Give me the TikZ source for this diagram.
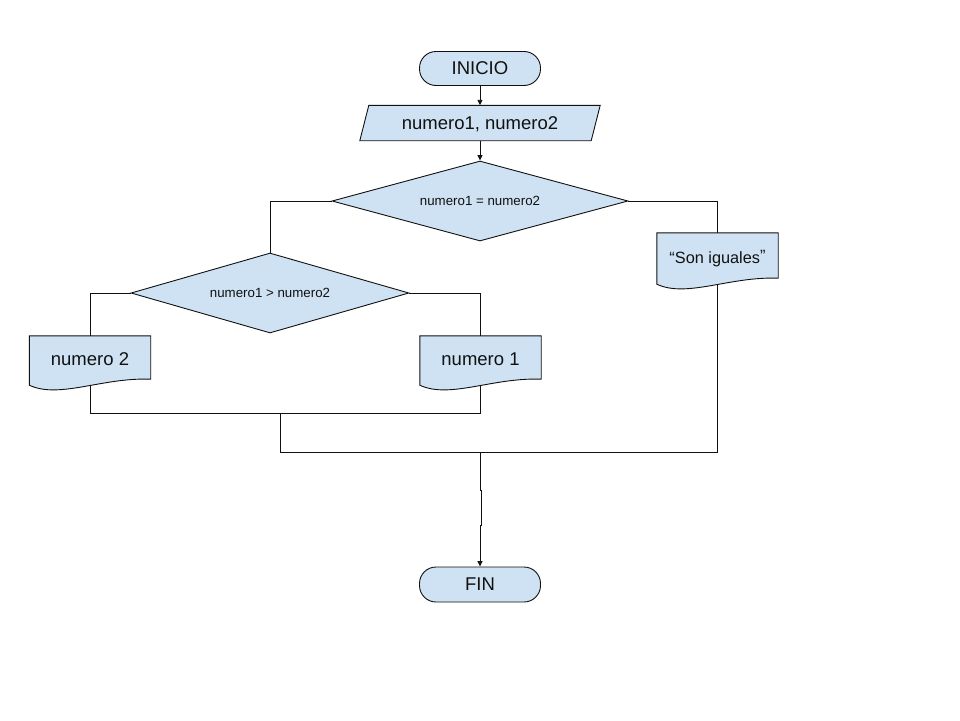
\documentclass[tikz,border=0pt]{standalone}
\usepackage{fontspec}
\setmainfont{Liberation Sans}
\usetikzlibrary{shapes.geometric,arrows.meta,calc,backgrounds}
\definecolor{boxfill}{HTML}{CFE2F3}
\definecolor{ink}{HTML}{111111}

% document symbol: flat top, wavy bottom, drawn behind the node text
\newcommand\docoutline[1]{%
  \begin{pgfonlayer}{background}
    \filldraw[shapebox] (#1.south west)
      .. controls ($(#1.south west)+(30,14)$) and ($(#1.south west)+(73,-8)$)
      .. ($(#1.south east)+(0,-6)$) -- (#1.north east) -- (#1.north west) -- cycle;
  \end{pgfonlayer}}

\begin{document}
\begin{tikzpicture}[x=1pt,y=-1pt,
  shapebox/.style={fill=boxfill,draw=ink,line width=0.9pt},
  bigtext/.style={font=\fontsize{18.5}{22}\selectfont,text=ink},
  terminal/.style={shapebox,bigtext,rectangle,rounded corners=16.5pt,
    minimum width=121pt,minimum height=34pt,inner sep=0pt},
  iobox/.style={bigtext,rectangle,draw=none,minimum width=231pt,
    minimum height=35pt,inner sep=0pt,text height=13.2pt,text depth=0pt},
  decision/.style={shapebox,diamond,aspect=3.7,inner sep=0pt,
    font=\fontsize{13.3}{15}\selectfont,text=ink},
  docbox/.style={rectangle,draw=none,minimum width=121pt,inner sep=0pt},
  conn/.style={draw=ink,line width=0.9pt},
  flow/.style={conn,-{Triangle[width=5pt,length=5.5pt]}}]

\useasboundingbox (0,0) rectangle (960,720);

% start
\node[terminal] (inicio) at (480,68.5) {INICIO};

% data input (parallelogram)
\node[iobox] (datos) at (480,123) {numero1, numero2};
\begin{pgfonlayer}{background}
  \filldraw[shapebox] ($(datos.south west)+(-4.5,0)$) -- ($(datos.north west)+(4.5,0)$)
    -- ($(datos.north east)+(4.5,0)$) -- ($(datos.south east)+(-4.5,0)$) -- cycle;
\end{pgfonlayer}

% decisions
\node[decision,minimum width=296pt,minimum height=80pt] (igual) at (480,201) {numero1 = numero2};
\node[decision,minimum width=278pt,minimum height=80pt] (mayor) at (270,293) {numero1 > numero2};

% outputs
\node[docbox,bigtext,minimum height=49pt] (sal2) at (90,360.5) {\raisebox{3.5pt}{numero 2}};
\docoutline{sal2}
\node[docbox,bigtext,minimum height=49pt] (sal1) at (480.5,360.5) {\raisebox{3.5pt}{numero 1}};
\docoutline{sal1}
\node[docbox,font=\fontsize{16.3}{20}\selectfont,text=ink,minimum height=51pt] (iguales)
  at (717.5,258.5) {\raisebox{3.5pt}{“Son iguales\raisebox{1.5pt}{”}}};
\docoutline{iguales}

% end
\node[terminal,minimum height=35pt] (fin) at (480,584.5) {FIN};

% junction points
\coordinate (j1) at (280,413.5);
\coordinate (j2) at (280,452);
\coordinate (j3) at (480,452);

% connectors
\draw[flow] (inicio) -- (datos);
\draw[flow] (datos) -- (igual);
\draw[conn] (igual.west) -| (mayor.north);
\draw[conn] (igual.east) -| (iguales.north);
\draw[conn] (mayor.west) -| (sal2.north);
\draw[conn] (mayor.east) -| (sal1.north);
\draw[conn] (sal2.south) |- (j1) -| (sal1.south);
\draw[conn] (j1) -- (j2) -| (iguales.south);
\draw[flow] (j3) -- ++(0,38) -- ++(1.2,0) -- ++(0,35) -- ++(-1.2,0) -- (fin.north);

\end{tikzpicture}
\end{document}
